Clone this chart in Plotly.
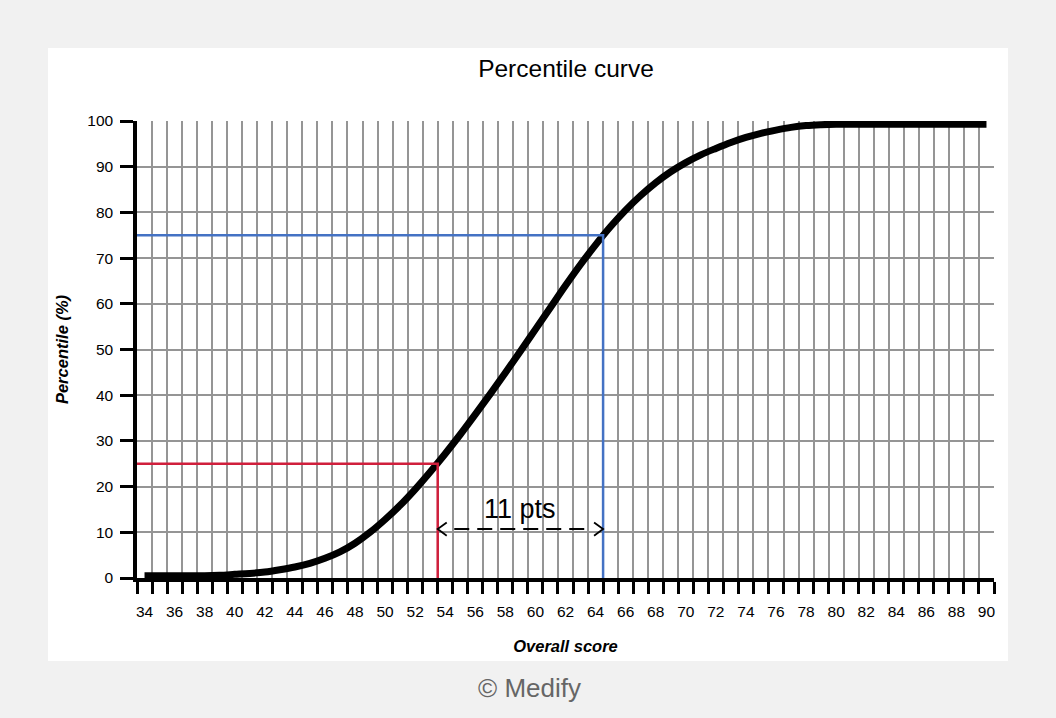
import plotly.graph_objects as go

# ---------------- data ----------------
scores = [34, 35, 36, 37, 38, 39, 40, 41, 42, 43, 44, 45, 46, 47, 48, 49, 50,
          51, 52, 53, 54, 55, 56, 57, 58, 59, 60, 61, 62, 63, 64, 65, 66, 67,
          68, 69, 70, 71, 72, 73, 74, 75, 76, 77, 78, 79, 80, 81, 82, 83, 84,
          85, 86, 87, 88, 89, 90]
percentile = [0.5, 0.5, 0.5, 0.5, 0.5, 0.6, 0.8, 1.0, 1.3, 1.8, 2.4, 3.2, 4.3,
              5.7, 7.6, 10.0, 12.8, 15.9, 19.4, 23.2, 27.2, 31.4, 35.8, 40.3,
              44.9, 49.6, 54.4, 59.2, 64.0, 68.6, 72.9, 76.9, 80.5, 83.7, 86.5,
              88.9, 90.9, 92.6, 94.0, 95.3, 96.4, 97.3, 98.0, 98.6, 99.0, 99.2,
              99.3, 99.3, 99.3, 99.3, 99.3, 99.3, 99.3, 99.3, 99.3, 99.3, 99.3]

x_tick_vals = list(range(34, 91, 2))
x_tick_labels = [str(v) for v in x_tick_vals]
y_tick_vals = list(range(0, 101, 10))

low_score, low_pct = 53.5, 25      # 25th percentile
high_score, high_pct = 64.5, 75    # 75th percentile
gap_label = "11 pts"

# ---------------- style / layout constants ----------------
X_MIN, X_MAX = 33.5, 90.5
ARROW_Y = 10.7
LABEL_Y = 15.0
ARROW_GAP = 1.1
ARROW_DX = 0.6
ARROW_DY = 1.45
GRID = "#959595"
RED = "#D01F3C"
BLUE = "#4472C4"
FONT = "Liberation Sans, Arial, sans-serif"

L, R, T, B = 137, 62, 121, 140
W, H = 1056, 718
pw, ph = W - L - R, H - T - B


def px_x(px):
    return (px - L) / pw


def px_y(py):
    return (H - B - py) / ph


fig = go.Figure()

# main curve
fig.add_trace(go.Scatter(
    x=scores, y=percentile, mode="lines",
    line=dict(color="black", width=7, shape="spline", smoothing=1.0),
    hoverinfo="skip", showlegend=False))

# 25th percentile guide
fig.add_trace(go.Scatter(
    x=[X_MIN, low_score, low_score], y=[low_pct, low_pct, 0], mode="lines",
    line=dict(color=RED, width=2.5), hoverinfo="skip", showlegend=False))

# 75th percentile guide
fig.add_trace(go.Scatter(
    x=[X_MIN, high_score, high_score], y=[high_pct, high_pct, 0], mode="lines",
    line=dict(color=BLUE, width=2.5), hoverinfo="skip", showlegend=False))

# dashed gap line
fig.add_trace(go.Scatter(
    x=[low_score + ARROW_GAP, high_score - ARROW_GAP], y=[ARROW_Y, ARROW_Y],
    mode="lines", line=dict(color="black", width=2, dash="15px,8px"),
    hoverinfo="skip", showlegend=False))

# open chevron heads
fig.add_trace(go.Scatter(
    x=[low_score + ARROW_DX, low_score, low_score + ARROW_DX],
    y=[ARROW_Y + ARROW_DY, ARROW_Y, ARROW_Y - ARROW_DY],
    mode="lines", line=dict(color="black", width=1.8),
    hoverinfo="skip", showlegend=False))
fig.add_trace(go.Scatter(
    x=[high_score - ARROW_DX, high_score, high_score - ARROW_DX],
    y=[ARROW_Y + ARROW_DY, ARROW_Y, ARROW_Y - ARROW_DY],
    mode="lines", line=dict(color="black", width=1.8),
    hoverinfo="skip", showlegend=False))

annotations = [
    dict(x=(low_score + high_score) / 2, y=LABEL_Y, xref="x", yref="y",
         text=gap_label, showarrow=False, xanchor="center", yanchor="middle",
         font=dict(family=FONT, size=27, color="black")),
    dict(x=px_x(529), y=px_y(688), xref="paper", yref="paper",
         text="© Medify", showarrow=False, xanchor="center", yanchor="middle",
         font=dict(family=FONT, size=26, color="#666666")),
]

shapes = [
    dict(type="rect", xref="paper", yref="paper", layer="below",
         x0=px_x(48), x1=px_x(1008), y0=px_y(661), y1=px_y(48),
         fillcolor="white", line=dict(width=0)),
]

fig.update_layout(
    width=W, height=H,
    margin=dict(l=L, r=R, t=T, b=B),
    paper_bgcolor="#f1f1f1",
    plot_bgcolor="rgba(0,0,0,0)",
    font=dict(family=FONT, color="black"),
    title=dict(text="Percentile curve", x=px_x(566), xref="paper",
               xanchor="center", y=1 - 68 / H, yref="container",
               yanchor="middle", font=dict(size=24.5, color="black")),
    shapes=shapes,
    annotations=annotations,
    showlegend=False,
)

fig.update_xaxes(
    range=[X_MIN, X_MAX], tickmode="array", tickvals=x_tick_vals,
    ticktext=x_tick_labels, ticks="outside", ticklen=17,
    tickcolor="rgba(0,0,0,0)", showgrid=False, zeroline=False,
    showline=True, linecolor="black", linewidth=3.5,
    tickfont=dict(size=15.5, color="black"),
    minor=dict(tick0=X_MIN, dtick=1, ticks="outside", ticklen=12,
               tickwidth=3, tickcolor="black", showgrid=True,
               gridcolor=GRID, gridwidth=2),
    title=dict(text="<b><i>Overall score</i></b>", standoff=22,
               font=dict(size=16.5, color="black")),
)

fig.update_yaxes(
    range=[0, 100], tickmode="array", tickvals=y_tick_vals,
    ticks="outside", ticklen=13, tickwidth=3, tickcolor="black",
    ticklabelstandoff=4,
    showgrid=True, gridcolor=GRID, gridwidth=2, zeroline=False,
    showline=True, linecolor="black", linewidth=3.5,
    tickfont=dict(size=15.5, color="black"),
    title=dict(text="<b><i>Percentile (%)</i></b>", standoff=16,
               font=dict(size=16.5, color="black")),
)

fig.write_html(
    "out.html",
    config={"displayModeBar": False},
    post_script="document.body.style.margin='0';"
                "document.body.style.background='#f1f1f1';",
)
